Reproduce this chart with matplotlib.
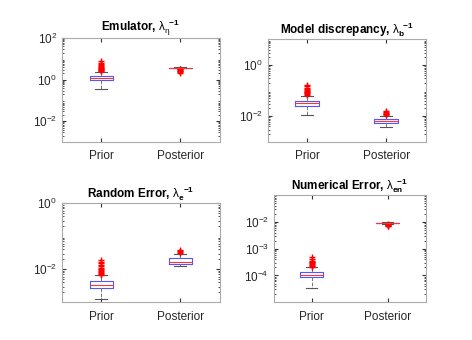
import matplotlib
matplotlib.use("Agg")
import matplotlib.pyplot as plt
from matplotlib.ticker import LogLocator, NullFormatter

plt.rcParams['font.family'] = ['Liberation Sans', 'DejaVu Sans']
plt.rcParams['mathtext.fontset'] = 'custom'
plt.rcParams['mathtext.rm'] = 'Liberation Sans'
plt.rcParams['mathtext.it'] = 'Liberation Sans'
plt.rcParams['mathtext.bf'] = 'Liberation Sans:bold'

categories = ["Prior", "Posterior"]
titles = [r"Emulator, $\lambda_{\eta}^{\;\;\mathbf{-1}}$",
          r"Model discrepancy, $\lambda_{\mathbf{b}}^{\;\;\mathbf{-1}}$",
          r"Random Error, $\lambda_{\mathbf{e}}^{\;\;\mathbf{-1}}$",
          r"Numerical Error, $\lambda_{\mathbf{en}}^{\;\;\mathbf{-1}}$"]

# box statistics per panel: (whislo, q1, med, q3, whishi) for Prior, Posterior
emu_prior = [0.36, 0.97, 1.16, 1.5, 2.4]
emu_post = [3.5, 3.75, 3.8, 3.85, 4.05]
emu_prior_out = [2.5, 2.7, 2.9, 3.1, 3.3, 3.5, 3.8, 4.1, 4.5, 5.0, 5.6, 6.5, 8.3]
emu_post_out = [3.3, 3.1, 2.9, 2.7, 2.5, 2.3, 2.1]

md_prior = [0.011, 0.026, 0.032, 0.041, 0.063]
md_post = [0.0038, 0.0055, 0.0063, 0.0079, 0.0104]
md_prior_out = [0.066, 0.072, 0.078, 0.085, 0.092, 0.1, 0.11, 0.12, 0.13, 0.145, 0.16]
md_post_out = [0.011, 0.0118, 0.0126, 0.0135, 0.0145, 0.016]

re_prior = [0.0013, 0.0028, 0.0034, 0.0043, 0.0065]
re_post = [0.0123, 0.0149, 0.017, 0.0215, 0.030]
re_prior_out = [0.0068, 0.0072, 0.0077, 0.0082, 0.0088, 0.0095, 0.0103, 0.0112, 0.0122, 0.0135, 0.015, 0.017, 0.019]
re_post_out = [0.031, 0.033, 0.035, 0.038]

ne_prior = [3.5e-5, 8.7e-5, 1.0e-4, 1.34e-4, 2.0e-4]
ne_post = [0.0083, 0.0089, 0.0092, 0.0095, 0.0101]
ne_prior_out = [2.1e-4, 2.3e-4, 2.5e-4, 2.7e-4, 2.9e-4, 3.1e-4, 3.3e-4, 3.6e-4, 4.0e-4, 4.9e-4]
ne_post_out = [0.0081, 0.0078, 0.0075, 0.0072, 0.0069]

panels = [
    (emu_prior, emu_post, emu_prior_out, emu_post_out, (1e-3, 1e2), [1e-2, 1e0, 1e2]),
    (md_prior, md_post, md_prior_out, md_post_out, (1e-3, 1e1), [1e-2, 1e0]),
    (re_prior, re_post, re_prior_out, re_post_out, (1e-3, 1e0), [1e-2, 1e0]),
    (ne_prior, ne_post, ne_prior_out, ne_post_out, (1e-5, 1e-1), [1e-4, 1e-3, 1e-2]),
]
ytick_labels = [[r"$10^{-2}$", r"$10^{0}$", r"$10^{2}$"],
                [r"$10^{-2}$", r"$10^{0}$"],
                [r"$10^{-2}$", r"$10^{0}$"],
                [r"$10^{-4}$", r"$10^{-3}$", r"$10^{-2}$"]]

positions = [
    [0.131, 0.582, 0.335, 0.306],
    [0.567, 0.583, 0.335, 0.301],
    [0.131, 0.111, 0.335, 0.291],
    [0.580, 0.111, 0.322, 0.315],
]

fig = plt.figure(figsize=(4.72, 3.40), dpi=100)

for i, (pr, po, pro, poo, ylim, yt) in enumerate(panels):
    ax = fig.add_axes(positions[i])
    stats = []
    for s, out, lab in [(pr, pro, categories[0]), (po, poo, categories[1])]:
        stats.append(dict(whislo=s[0], q1=s[1], med=s[2], q3=s[3], whishi=s[4],
                          fliers=out, label=lab))
    ax.bxp(stats, positions=[1, 2], widths=0.3, showfliers=True,
           boxprops=dict(color='#5555ff', linewidth=0.8),
           medianprops=dict(color='#ff3333', linewidth=0.8),
           whiskerprops=dict(color='#777777', linewidth=0.7, linestyle='--'),
           capprops=dict(color='#555555', linewidth=0.8),
           flierprops=dict(marker='+', markeredgecolor='red', markersize=5,
                           markeredgewidth=1.0, linestyle='none'))
    ax.set_yscale('log')
    ax.set_ylim(*ylim)
    ax.set_xlim(0.5, 2.5)
    ax.set_yticks(yt)
    ax.set_yticklabels(ytick_labels[i])
    ax.yaxis.set_minor_locator(LogLocator(base=10, subs=range(2, 10), numticks=20))
    ax.yaxis.set_minor_formatter(NullFormatter())
    ax.tick_params(axis='both', which='both', direction='in', top=True, right=True,
                   labelsize=8.5, colors='#333333', labelcolor='#262626')
    ax.tick_params(axis='both', which='major', length=3)
    ax.tick_params(axis='both', which='minor', length=1.5)
    ax.tick_params(axis='x', pad=6)
    for sp in ax.spines.values():
        sp.set_color('#aaaaaa')
        sp.set_linewidth(0.8)
    ax.set_title(titles[i], fontsize=8.5, fontweight='bold', pad=4)

fig.savefig("out.png", dpi=100)
